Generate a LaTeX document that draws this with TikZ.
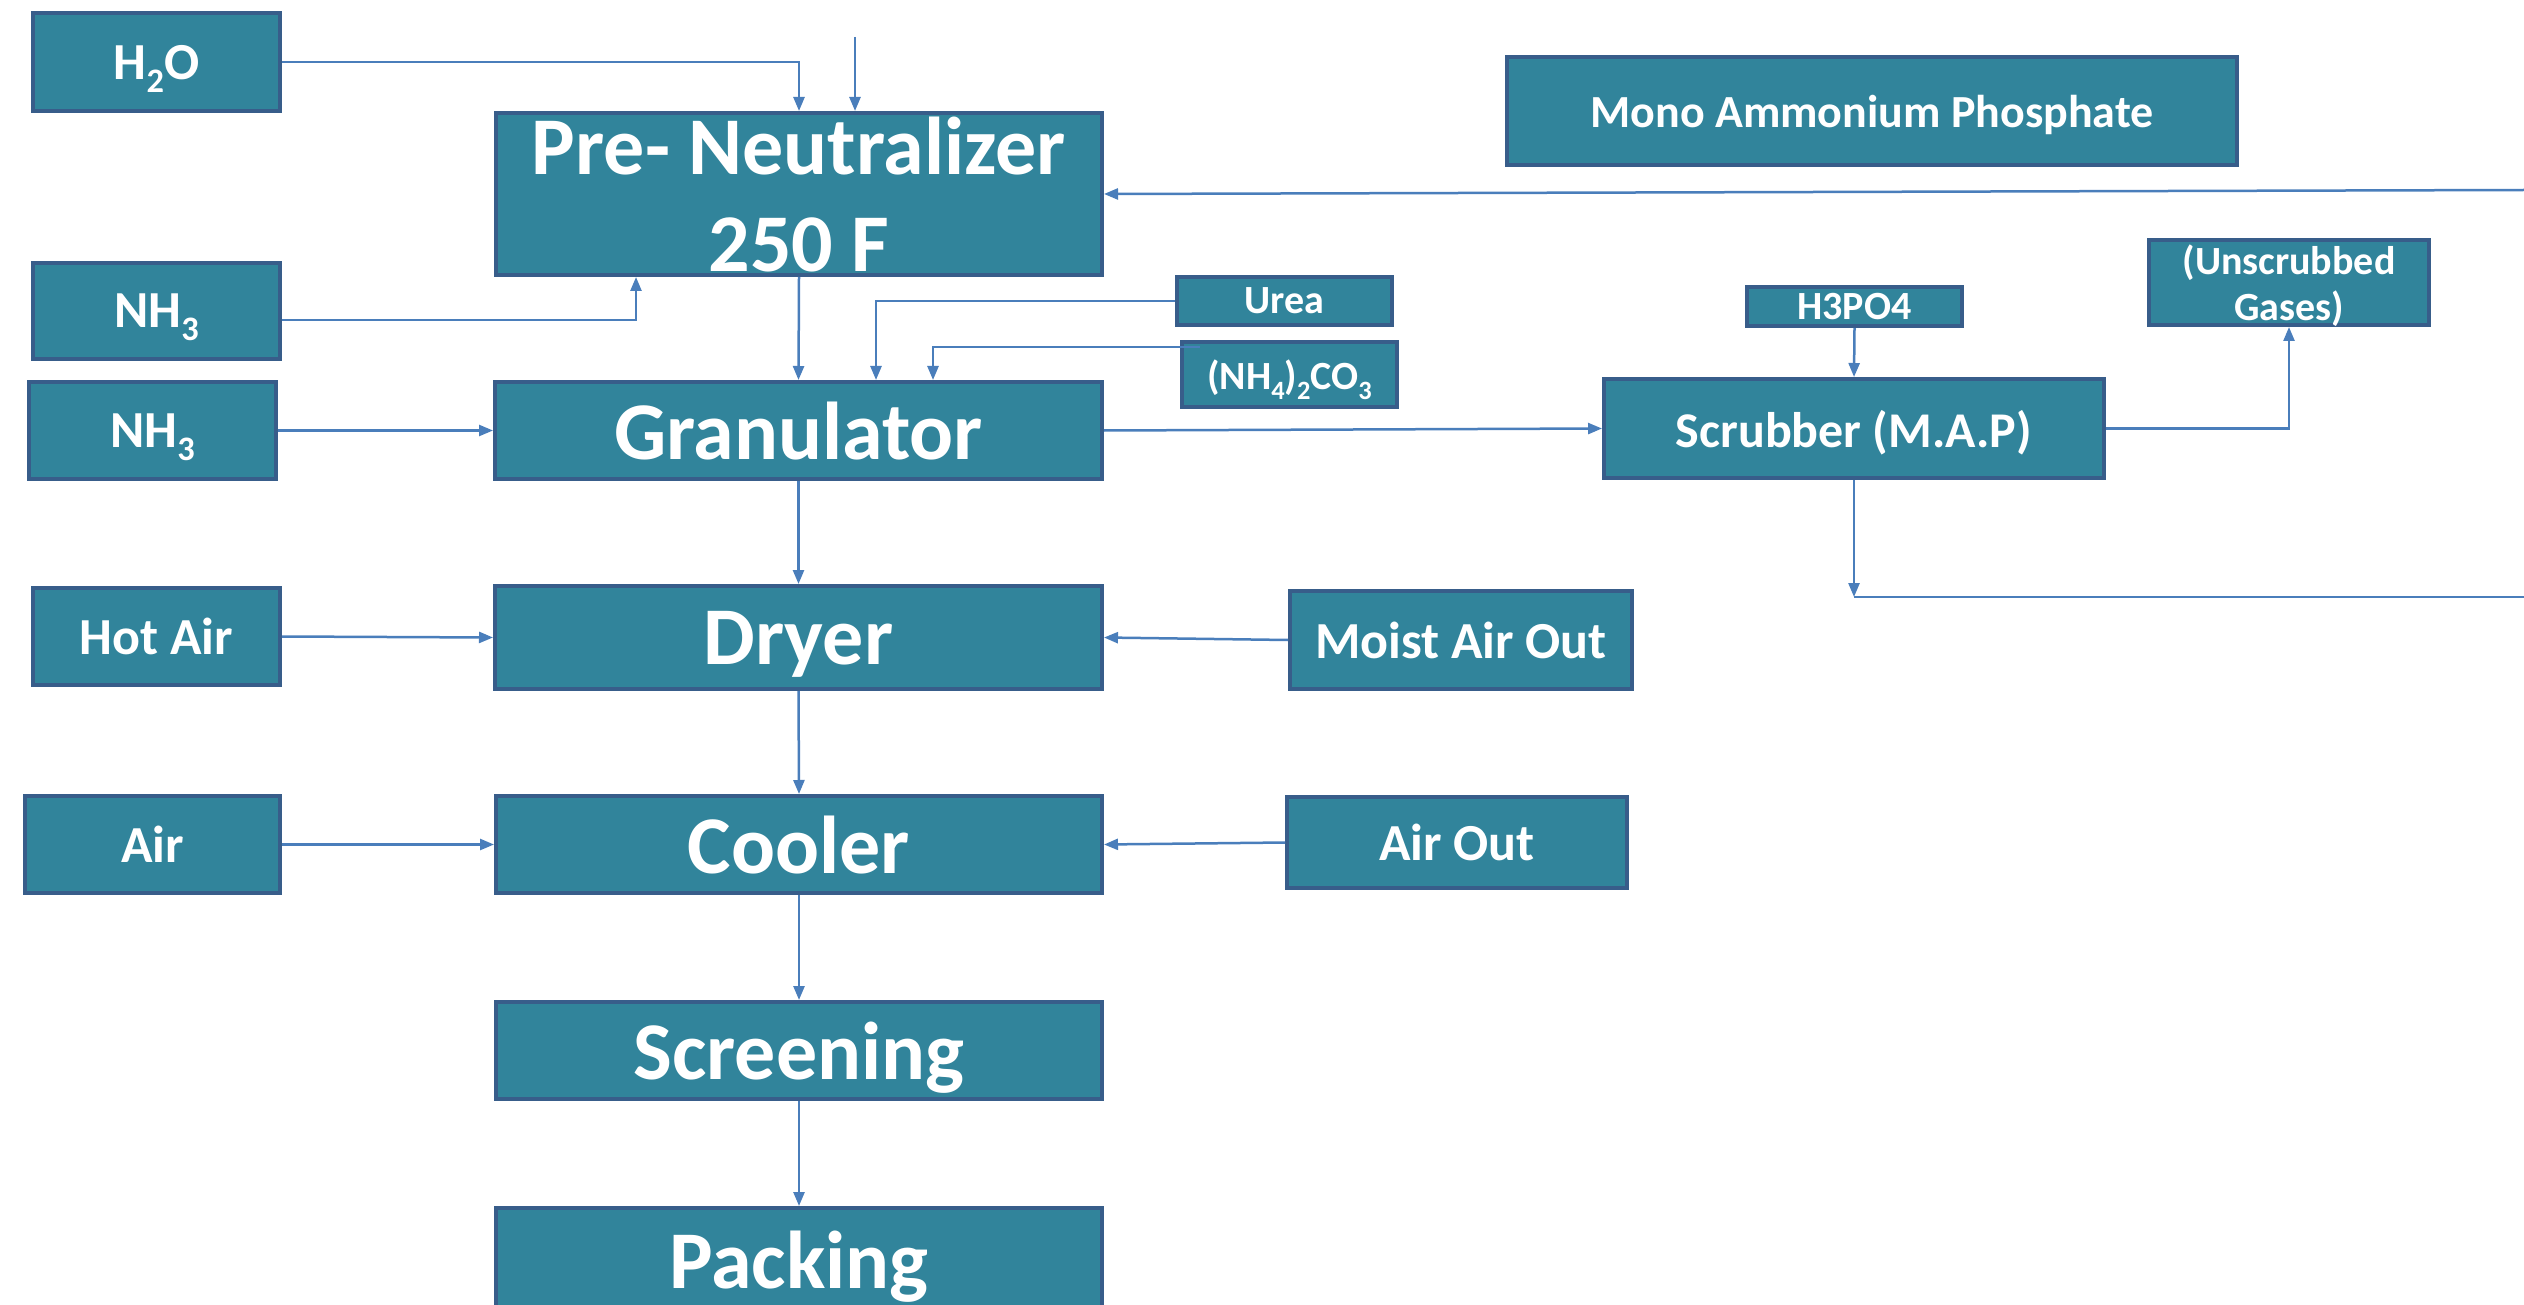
\documentclass[tikz,border=0pt]{standalone}
\usepackage{fontspec}
\setmainfont{Carlito}
\usetikzlibrary{arrows.meta}
\definecolor{boxfill}{HTML}{31849B}
\definecolor{boxline}{HTML}{385D8A}
\definecolor{conn}{HTML}{4A7EBB}
\newcommand\mysub[1]{\raisebox{-0.25em}{\scalebox{0.66}{#1}}}
\begin{document}
\begin{tikzpicture}[x=1pt,y=-1pt,
 blk/.style={draw=boxline, fill=boxfill, line width=4pt, text=white, inner sep=0pt, align=center, text depth=0pt},
 big/.style={blk, font=\fontsize{82}{97}\selectfont\bfseries},
 mid/.style={blk, font=\fontsize{52}{60}\selectfont\bfseries},
 mapf/.style={blk, font=\fontsize{46}{54}\selectfont\bfseries},
 sml/.style={blk, font=\fontsize{40}{48}\selectfont\bfseries},
 arr/.style={draw=conn, line width=2.5pt, -{Triangle[length=14pt,width=11pt]}},
 ln/.style={draw=conn, line width=2.5pt}]
\fill[white] (0,0) rectangle (2524,1305);
\useasboundingbox (0,0) rectangle (2524,1305);

% left inputs
\node[mid, minimum width=247pt, minimum height=98pt] (h2o) at (156.5,62) {H\mysub{2}O};
\node[mid, minimum width=247pt, minimum height=96pt] (nh3a) at (156.5,311) {NH\mysub{3}};
\node[mid, minimum width=247pt, minimum height=97pt] (nh3b) at (152.5,430.5) {NH\mysub{3}};
\node[mid, minimum width=247pt, minimum height=97pt] (hot) at (156.5,636.5) {Hot Air};
\node[mid, minimum width=255pt, minimum height=97pt] (air) at (152.5,844.5) {Air};

% main column
\node[big, minimum width=606pt, minimum height=162pt] (pre) at (799,194) {Pre- Neutralizer\\250 F};
\node[big, minimum width=607pt, minimum height=97pt] (gran) at (798.5,430.5) {Granulator};
\node[big, minimum width=607pt, minimum height=103pt] (dryer) at (798.5,637.5) {Dryer};
\node[big, minimum width=606pt, minimum height=97pt] (cooler) at (799,844.5) {Cooler};
\node[big, minimum width=606pt, minimum height=97pt] (screen) at (799,1050.5) {Screening};
\node[big, minimum width=606pt, minimum height=104pt] (pack) at (799,1260) {Packing};

% right side
\node[sml, minimum width=215pt, minimum height=48pt] (urea) at (1284.5,301) {Urea};
\node[sml, minimum width=215pt, minimum height=65pt] (carb) at (1289.5,374.5) {(NH\mysub{4})\mysub{2}CO\mysub{3}};
\node[mid, minimum width=342pt, minimum height=98pt] (moist) at (1461,640) {Moist Air Out};
\node[mid, minimum width=340pt, minimum height=91pt] (airout) at (1457,842.5) {Air Out};
\node[mapf, minimum width=730pt, minimum height=108pt] (map) at (1872,111) {Mono Ammonium Phosphate};
\node[sml, minimum width=215pt, minimum height=39pt] (h3po4) at (1854.5,306.5) {H3PO4};
\node[sml, minimum width=280pt, minimum height=85pt] (unscr) at (2289,282.5) {(Unscrubbed\\[-2pt]Gases)};
\node[mid, font=\fontsize{50}{60}\selectfont\bfseries, minimum width=500pt, minimum height=99pt] (scrub) at (1854,428.5) {Scrubber (M.A.P)};

\coordinate (topin) at (855,37);
\coordinate (rin) at (2524,190);
\coordinate (j) at (1854,597);
\coordinate (rout) at (2524,597);

% connectors
\draw[arr] (h2o.east) -| (pre.north);
\draw[arr] (topin) -- (topin |- pre.north);
\draw[arr] (rin) -- (pre.east);
\draw[arr] ([yshift=-9pt]nh3a.east) -| ([xshift=-163pt]pre.south);
\draw[arr] (pre.south) -- (gran.north);
\draw[arr] (urea.west) -| ([xshift=77.5pt]gran.north);
\draw[arr] ([xshift=20pt,yshift=27.5pt]carb.west) -| ([xshift=134.5pt]gran.north);
\draw[arr] (nh3b.east) -- (gran.west);
\draw[arr] (gran.east) -- (scrub.west);
\draw[arr] (h3po4.south) -- (scrub.north);
\draw[arr] (scrub.east) -| (unscr.south);
\draw[arr] (scrub.south) -- (j);
\draw[ln] (j) -- (rout);
\draw[arr] (gran.south) -- (dryer.north);
\draw[arr] (hot.east) -- (dryer.west);
\draw[arr] (moist.west) -- (dryer.east);
\draw[arr] (dryer.south) -- (cooler.north);
\draw[arr] (air.east) -- (cooler.west);
\draw[arr] (airout.west) -- (cooler.east);
\draw[arr] (cooler.south) -- (screen.north);
\draw[arr] (screen.south) -- (pack.north);
\end{tikzpicture}
\end{document}
